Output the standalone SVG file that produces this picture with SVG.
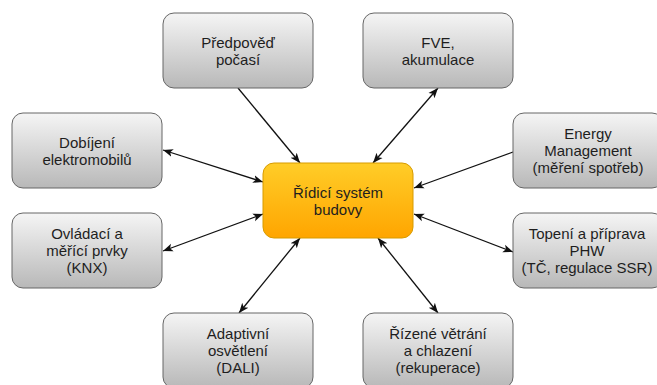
<svg xmlns="http://www.w3.org/2000/svg" width="657" height="385" viewBox="0 0 657 385">
<style>
.box{fill:url(#gray);stroke:#666666;stroke-width:1}
.core{fill:url(#orange);stroke:#d79b00;stroke-width:1}
text{font-family:"Liberation Sans",Arial,sans-serif;font-size:15px;fill:#1e1e1e;text-anchor:middle}
.c line{stroke:#111111;stroke-width:1.3;fill:none}
.both{marker-start:url(#ah);marker-end:url(#ah)}
.one{marker-end:url(#ah)}
</style>
<defs>
<linearGradient id="gray" x1="0" y1="0" x2="0" y2="1">
<stop offset="0" stop-color="#f5f5f5"/>
<stop offset="1" stop-color="#b8b8b8"/>
</linearGradient>
<linearGradient id="orange" x1="0" y1="0" x2="0" y2="1">
<stop offset="0" stop-color="#ffcd28"/>
<stop offset="1" stop-color="#ffa500"/>
</linearGradient>
<marker id="ah" viewBox="0 0 10 10" refX="10" refY="5" markerWidth="10" markerHeight="10" markerUnits="userSpaceOnUse" orient="auto-start-reverse">
<path d="M0,1 L10,5 L0,9 L2.5,5 Z" fill="#111111"/>
</marker>
</defs>
<g class="c" id="connectors">
<line class="one" x1="238" y1="88" x2="300" y2="163"/>
<line class="both" x1="438" y1="88" x2="373" y2="163"/>
<line class="both" x1="163" y1="150" x2="263" y2="182"/>
<line class="one" x1="513" y1="152" x2="414" y2="188"/>
<line class="both" x1="163" y1="251" x2="263" y2="214"/>
<line class="both" x1="513" y1="252" x2="414" y2="214"/>
<line class="both" x1="239" y1="313" x2="300" y2="238"/>
<line class="both" x1="438" y1="313" x2="378" y2="238"/>
</g>
<g id="n-predpoved">
<rect class="box" x="163" y="13" width="150" height="75" rx="11"/>
<text x="238" y="48">Předpověď</text>
<text x="238" y="65">počasí</text>
</g>
<g id="n-fve">
<rect class="box" x="363" y="13" width="150" height="75" rx="11"/>
<text x="438" y="48">FVE,</text>
<text x="438" y="65">akumulace</text>
</g>
<g id="n-dobijeni">
<rect class="box" x="12" y="113" width="150" height="75" rx="11"/>
<text x="87" y="148">Dobíjení</text>
<text x="87" y="165">elektromobilů</text>
</g>
<g id="n-energy">
<rect class="box" x="513" y="113" width="150" height="75" rx="11"/>
<text x="588" y="139">Energy</text>
<text x="588" y="156">Management</text>
<text x="588" y="173">(měření spotřeb)</text>
</g>
<g id="n-ridici">
<rect class="core" x="263" y="163" width="150" height="75" rx="11"/>
<text x="338" y="198">Řídicí systém</text>
<text x="338" y="215">budovy</text>
</g>
<g id="n-ovladaci">
<rect class="box" x="12" y="213" width="150" height="75" rx="11"/>
<text x="87" y="239">Ovládací a</text>
<text x="87" y="256">měřící prvky</text>
<text x="87" y="273">(KNX)</text>
</g>
<g id="n-topeni">
<rect class="box" x="513" y="213" width="150" height="75" rx="11"/>
<text x="587" y="239">Topení a příprava</text>
<text x="587" y="256">PHW</text>
<text x="587" y="273">(TČ, regulace SSR)</text>
</g>
<g id="n-adaptivni">
<rect class="box" x="163" y="313" width="150" height="75" rx="11"/>
<text x="238" y="339">Adaptivní</text>
<text x="238" y="356">osvětlení</text>
<text x="238" y="373">(DALI)</text>
</g>
<g id="n-rizene">
<rect class="box" x="363" y="313" width="150" height="75" rx="11"/>
<text x="438" y="339">Řízené větrání</text>
<text x="438" y="356">a chlazení</text>
<text x="438" y="373">(rekuperace)</text>
</g>
</svg>
